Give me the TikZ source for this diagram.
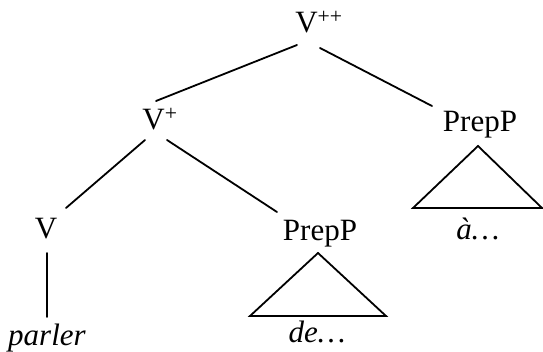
\documentclass[tikz,border=0pt]{standalone}
\usepackage{fontspec}
\setmainfont{Liberation Serif}
\begin{document}
\begin{tikzpicture}[x=1pt,y=1pt,
  lab/.style={anchor=base,inner sep=0pt,font=\fontsize{31}{36}\selectfont},
  edge/.style={line width=1.8pt,line cap=round,line join=miter}]
\useasboundingbox (0,0) rectangle (543,351);
\node[lab] (Vpp) at (319,318) {V\textsuperscript{++}};
\node[lab] (Vp) at (160,221) {V\textsuperscript{+}};
\node[lab] (PPr) at (480,219) {PrepP};
\node[lab] (V) at (46,113) {V};
\node[lab] (PPm) at (320,111) {PrepP};
\node[lab] (a) at (478,112) {\itshape à…};
\node[lab] (parler) at (47,6) {\itshape parler};
\node[lab] (de) at (317,9) {\itshape de…};
\draw[edge] ([shift={(-22,-12)}]Vpp.base) -- ([shift={(-4,29)}]Vp.base);
\draw[edge] ([shift={(1,-15)}]Vpp.base) -- ([shift={(-48,26)}]PPr.base);
\draw[edge] ([shift={(-15,-10)}]Vp.base) -- ([shift={(20,30)}]V.base);
\draw[edge] ([shift={(7,-10)}]Vp.base) -- ([shift={(-43,28)}]PPm.base);
\draw[edge] ([shift={(1,-15)}]V.base) -- ([shift={(0,28)}]parler.base);
\draw[edge] ([shift={(-2,-14)}]PPr.base) -- ([shift={(64,31)}]a.base) -- ([shift={(-65,31)}]a.base) -- cycle;
\draw[edge] ([shift={(-2,-13)}]PPm.base) -- ([shift={(69,26)}]de.base) -- ([shift={(-67,26)}]de.base) -- cycle;
\end{tikzpicture}
\end{document}
